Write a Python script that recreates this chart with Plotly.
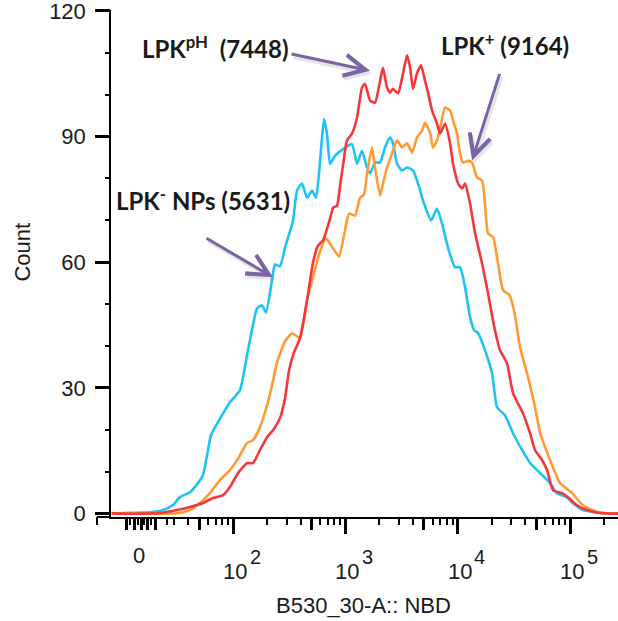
import numpy as np
import plotly.graph_objects as go

# ---------------- data ----------------
# x = position on the biexponential axis in display decades (10^n sits at n, "0" at ~1.16)
# y = event count
lpk_np_x = [0.92, 1.083, 1.261, 1.377, 1.466, 1.528, 1.617, 1.688, 1.733, 1.769, 1.804, 1.866, 1.973,
            2.062, 2.125, 2.151, 2.214, 2.258, 2.294, 2.347, 2.374, 2.418, 2.463, 2.490, 2.534, 2.570,
            2.614, 2.659, 2.704, 2.739, 2.766, 2.792, 2.810, 2.837, 2.864, 2.908, 2.979, 3.059, 3.104,
            3.148, 3.193, 3.220, 3.264, 3.309, 3.353, 3.398, 3.424, 3.460, 3.505, 3.549, 3.602, 3.647,
            3.700, 3.763, 3.816, 3.861, 3.914, 3.976, 4.021, 4.066, 4.110, 4.146, 4.181, 4.243, 4.306,
            4.350, 4.421, 4.493, 4.573, 4.644, 4.733, 4.822, 4.884, 4.973, 5.027, 5.116, 5.240, 5.329, 5.427]
lpk_np_y = [0.0, 0.2, 0.3, 0.86, 2.05, 3.96, 5.12, 7.29, 9.2, 13.96, 18.73, 21.82, 26.59,
            29.45, 37.79, 41.36, 48.98, 49.7, 48.04, 55.66, 59.47, 59.0, 63.5, 65.9, 69.9, 77.1,
            78.8, 75.4, 77.1, 75.4, 81.3, 89.7, 94.2, 90.6, 83.5, 85.4, 87.0, 88.2, 83.5,
            86.6, 82.6, 81.2, 83.8, 83.8, 87.4, 89.8, 88.4, 83.5, 81.9, 82.6, 81.9, 78.8,
            74.0, 70.0, 72.8, 69.2, 63.5, 58.8, 58.8, 54.0, 46.9, 43.8, 43.1, 39.0, 33.5,
            25.4, 23.5, 19.2, 15.2, 12.1, 9.7, 7.3, 4.9, 3.9, 2.5, 0.86, 0.3, 0.1, 0.0]

lpk_ph_x = [0.92, 0.994, 1.199, 1.350, 1.501, 1.617, 1.733, 1.822, 1.911, 1.973, 2.045, 2.125, 2.178,
            2.240, 2.303, 2.356, 2.418, 2.463, 2.499, 2.543, 2.596, 2.659, 2.712, 2.757, 2.801, 2.864,
            2.891, 2.926, 2.953, 2.979, 3.015, 3.059, 3.104, 3.148, 3.175, 3.220, 3.264, 3.309, 3.335,
            3.371, 3.398, 3.424, 3.469, 3.514, 3.549, 3.576, 3.602, 3.638, 3.674, 3.709, 3.736, 3.772,
            3.816, 3.843, 3.888, 3.932, 3.959, 4.004, 4.039, 4.066, 4.110, 4.155, 4.217, 4.270, 4.323,
            4.377, 4.439, 4.493, 4.582, 4.644, 4.688, 4.751, 4.795, 4.849, 4.929, 4.982, 5.062, 5.151,
            5.267, 5.427]
lpk_ph_y = [0.14, 0.0, 0.0, 0.14, 0.86, 1.57, 2.53, 3.72, 4.43, 6.34, 9.67, 12.06, 12.06,
            15.16, 18.25, 19.92, 22.78, 27.55, 34.2, 38.5, 41.8, 50.9, 59.9, 64.0, 65.2, 70.4,
            73.0, 73.5, 78.3, 83.1, 89.1, 90.7, 94.5, 101.7, 102.6, 98.6, 98.1, 103.3, 106.4,
            101.7, 100.5, 101.4, 100.3, 105.1, 109.4, 106.6, 101.4, 105.1, 107.0, 103.3, 100.5, 96.2,
            93.1, 90.7, 93.1, 88.4, 83.5, 78.8, 77.6, 78.8, 74.0, 66.9, 59.7, 52.6, 44.9,
            39.0, 35.9, 28.7, 23.9, 19.2, 15.2, 12.8, 10.4, 5.6, 4.9, 3.9, 2.0, 0.86,
            0.14, 0.0]

lpk_pos_x = [0.92, 1.199, 1.377, 1.501, 1.617, 1.706, 1.795, 1.884, 1.973, 2.036, 2.125, 2.178, 2.240,
             2.303, 2.347, 2.392, 2.463, 2.525, 2.596, 2.659, 2.712, 2.757, 2.828, 2.891, 2.944, 2.988,
             3.033, 3.086, 3.131, 3.166, 3.193, 3.237, 3.264, 3.309, 3.335, 3.371, 3.415, 3.460, 3.505,
             3.549, 3.594, 3.638, 3.683, 3.709, 3.754, 3.780, 3.816, 3.852, 3.887, 3.932, 3.959, 3.994,
             4.021, 4.048, 4.092, 4.128, 4.172, 4.217, 4.243, 4.270, 4.315, 4.359, 4.404, 4.457, 4.502,
             4.555, 4.626, 4.688, 4.733, 4.822, 4.911, 5.018, 5.116, 5.240, 5.383, 5.427]
lpk_pos_y = [0.0, 0.0, 0.0, 0.1, 0.86, 2.53, 4.91, 8.01, 10.39, 12.77, 16.82, 17.54, 20.63,
             25.87, 30.6, 36.1, 41.1, 43.0, 42.0, 50.9, 56.4, 61.1, 65.7, 63.3, 61.4, 66.4,
             71.6, 71.1, 75.4, 76.1, 81.2, 87.4, 82.6, 75.9, 78.8, 82.6, 85.9, 89.1, 87.4,
             88.4, 86.2, 89.8, 91.4, 93.3, 90.9, 87.4, 89.1, 93.1, 96.9, 96.2, 93.8, 90.7,
             85.9, 83.8, 84.2, 83.8, 80.2, 79.5, 74.0, 66.9, 66.0, 59.7, 53.3, 52.3, 48.5,
             39.7, 32.6, 25.4, 19.4, 12.8, 7.3, 4.9, 2.0, 0.4, 0.0, 0.0]

major_ticks = [2, 3, 4, 5]
y_major_step = 30
y_minor_step = 10
x_title = "B530_30-A:: NBD"
y_title = "Count"

# ---------------- figure ----------------
X_RANGE = [0.914, 5.427]
Y_RANGE = [-0.8, 120.2]

fig = go.Figure()
series = [
    (lpk_np_x, lpk_np_y, "#1FC3F3", "LPK- NPs"),
    (lpk_pos_x, lpk_pos_y, "#FF9A35", "LPK+"),
    (lpk_ph_x, lpk_ph_y, "#F5373B", "LPKpH"),
]
for xs, ys, col, name in series:
    fig.add_trace(go.Scatter(x=xs, y=ys, mode="lines", name=name,
                             line=dict(color=col, width=2.6, shape="spline", smoothing=0.5),
                             hoverinfo="skip"))

# tick positions (axis decoration)
short_ticks = [1.0875, 1.150, 1.212, 1.274, 1.41] + [np.log10(k * 10) for k in (3, 4, 6, 7, 8, 9)]
for n in (2, 3, 4):
    short_ticks += [np.log10(k * 10 ** n) for k in (2, 3, 4, 6, 7, 8, 9)]
short_ticks += [np.log10(2e5)]
mid_ticks = [1.056, 1.119, 1.181, 1.243, 1.306] + [np.log10(5 * 10 ** n) for n in (1, 2, 3, 4)]

axis_font = dict(family="Liberation Sans, Arial", size=22, color="#1a1a1a")
common_off = dict(showgrid=False, zeroline=False, showline=False)

fig.update_layout(
    width=618, height=621,
    margin=dict(l=111, r=0, t=10, b=104),
    paper_bgcolor="white", plot_bgcolor="white",
    showlegend=False,
    xaxis=dict(range=X_RANGE, tickmode="array", tickvals=major_ticks, showticklabels=False,
               ticks="outside", ticklen=15, tickwidth=3, tickcolor="black",
               showline=True, linecolor="black", linewidth=2, showgrid=False, zeroline=False),
    xaxis2=dict(range=X_RANGE, overlaying="x", anchor="y", side="bottom", tickmode="array",
                tickvals=short_ticks, showticklabels=False, ticks="outside", ticklen=7, tickwidth=2,
                tickcolor="black", **common_off),
    xaxis3=dict(range=X_RANGE, overlaying="x", anchor="y", side="bottom", tickmode="array",
                tickvals=mid_ticks, showticklabels=False, ticks="outside", ticklen=12, tickwidth=3,
                tickcolor="black", **common_off),
    yaxis=dict(range=Y_RANGE, tickmode="linear", tick0=0, dtick=y_major_step, ticks="outside",
               ticklen=14, tickwidth=3, tickcolor="black", tickfont=axis_font,
               ticklabeloverflow="allow", ticklabelstandoff=5,
               showline=True, linecolor="black", linewidth=1.5, showgrid=False, zeroline=False),
    yaxis2=dict(range=Y_RANGE, overlaying="y", anchor="x", side="left", tickmode="linear",
                tick0=0, dtick=y_minor_step, ticks="outside", ticklen=5, tickwidth=1.5,
                tickcolor="black", showticklabels=False, **common_off),
    yaxis3=dict(range=Y_RANGE, overlaying="y", anchor="x", side="left", tickmode="linear",
                tick0=0, dtick=y_major_step, ticks="outside", ticklen=14, tickwidth=3,
                tickcolor="black", showticklabels=False, **common_off),
)
# invisible traces so the overlay axes are drawn
fig.add_trace(go.Scatter(x=[X_RANGE[0]], y=[0], xaxis="x2", mode="markers", opacity=0, hoverinfo="skip"))
fig.add_trace(go.Scatter(x=[X_RANGE[0]], y=[0], xaxis="x3", mode="markers", opacity=0, hoverinfo="skip"))
fig.add_trace(go.Scatter(x=[X_RANGE[0]], y=[0], yaxis="y2", mode="markers", opacity=0, hoverinfo="skip"))
fig.add_trace(go.Scatter(x=[X_RANGE[0]], y=[0], yaxis="y3", mode="markers", opacity=0, hoverinfo="skip"))

# axis extension to the left of the y axis
fig.add_shape(type="line", xref="paper", yref="paper", x0=-14 / 507, x1=0, y0=0, y1=0,
              line=dict(color="black", width=2))
fig.add_shape(type="line", xref="paper", yref="paper", x0=-14 / 507, x1=-14 / 507, y0=0, y1=-8 / 507,
              line=dict(color="black", width=2))

# x tick labels
ann = []
ann.append(dict(text="0", x=1.163, xref="x", y=-0.075, yref="paper", showarrow=False,
                xanchor="center", yanchor="middle", font=axis_font))
for n in major_ticks:
    ann.append(dict(text="10", x=n, xref="x", y=-0.108, yref="paper", showarrow=False,
                    xanchor="center", yanchor="middle", xshift=2, font=axis_font))
    ann.append(dict(text=str(n), x=n, xref="x", y=-0.079, yref="paper", showarrow=False,
                    xanchor="center", yanchor="middle", xshift=22,
                    font=dict(family="Liberation Sans, Arial", size=20, color="#1a1a1a")))
# axis titles
ann.append(dict(text=x_title, x=0.499, xref="paper", y=-0.174, yref="paper", showarrow=False,
                xanchor="center", yanchor="middle", font=axis_font))
ann.append(dict(text=y_title, x=-0.174, xref="paper", y=0.523, yref="paper", showarrow=False,
                textangle=-90, xanchor="center", yanchor="middle", font=axis_font))

# labels
lab_font = dict(family="Lato, Noto Sans, sans-serif", size=24, color="#1a1a1a", weight="bold")
ann.append(dict(text="LPK<sup>pH</sup>  (7448)", x=0.207, y=0.927, xref="paper", yref="paper",
                showarrow=False, xanchor="center", yanchor="middle", font=lab_font))
ann.append(dict(text="LPK<sup>+</sup> (9164)", x=0.777, y=0.933, xref="paper", yref="paper",
                showarrow=False, xanchor="center", yanchor="middle", font=lab_font))
ann.append(dict(text="LPK<sup>-</sup> NPs (5631)", x=0.181, y=0.627, xref="paper", yref="paper",
                showarrow=False, xanchor="center", yanchor="middle", font=lab_font))

# arrows (tip at the curve, tail offset in pixels)
arrows = [(3.220, 105.7, -80, -17), (4.128, 84.3, 28, -88), (2.356, 56.4, -68, -40)]
for tx, ty, axp, ayp in arrows:
    ann.append(dict(text="", x=tx, y=ty, xref="x", yref="y", ax=axp, ay=ayp, showarrow=True,
                    arrowhead=5, arrowsize=1.05, arrowwidth=4, arrowcolor="rgba(90,90,90,0.15)",
                    xshift=2, yshift=-3))
    ann.append(dict(text="", x=tx, y=ty, xref="x", yref="y", ax=axp, ay=ayp, showarrow=True,
                    arrowhead=5, arrowsize=1.4, arrowwidth=3, arrowcolor="#7C63A4"))

fig.update_layout(annotations=ann)
fig.write_html("out.html", config={"displayModeBar": False},
               post_script="document.body.style.margin='0';"
                           "document.documentElement.style.overflow='hidden';")
